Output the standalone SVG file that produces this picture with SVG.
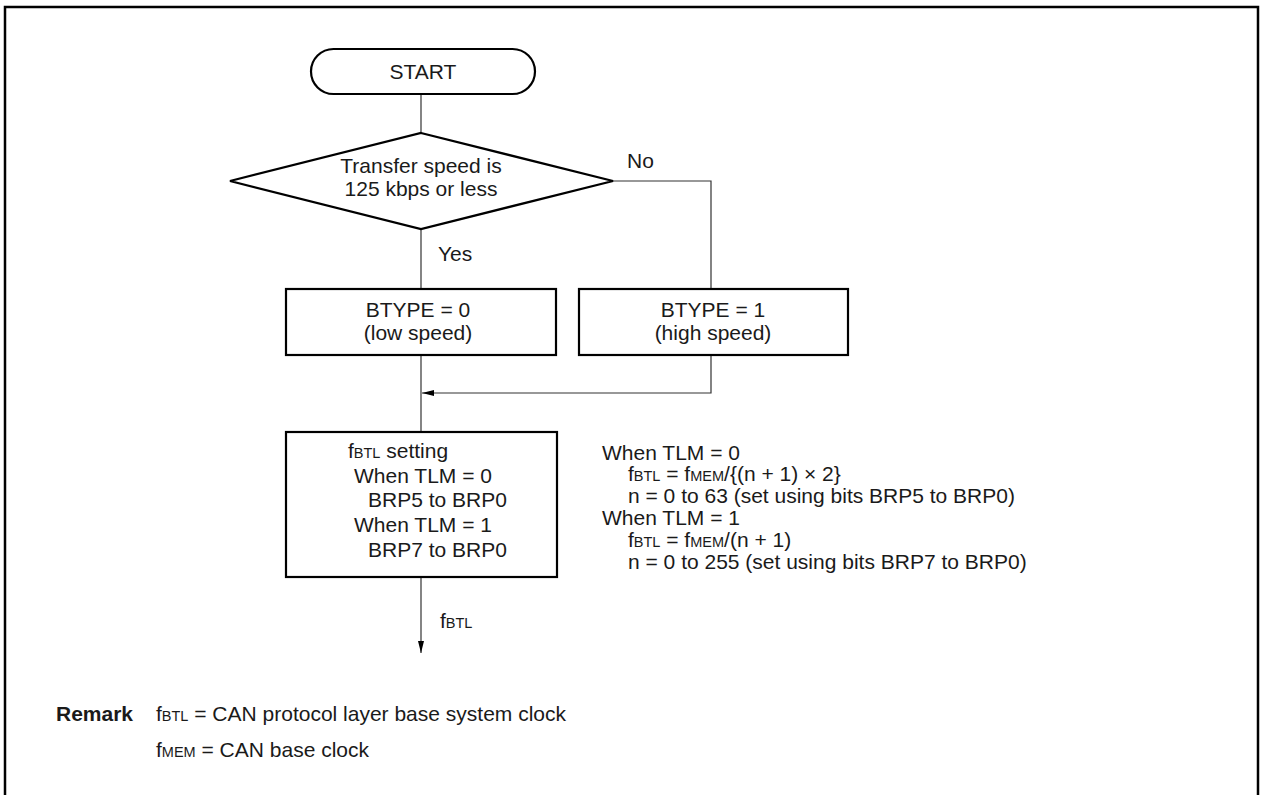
<svg xmlns="http://www.w3.org/2000/svg" width="1261" height="795" viewBox="0 0 1261 795">
<style>
text{font-family:"Liberation Sans",Arial,sans-serif;font-size:21px;fill:#1a1a1a}
.c{text-anchor:middle}
.s{font-size:14.5px}
.b{font-weight:bold}
.shape{fill:#fff;stroke:#000;stroke-width:2.2}
.ln{fill:none;stroke:#333;stroke-width:1.2}
</style>
<defs>
<marker id="ah" viewBox="0 0 12 6" refX="12" refY="3" markerWidth="12" markerHeight="6" markerUnits="userSpaceOnUse" orient="auto">
<path d="M0,0 L12,3 L0,6 Z" fill="#000"/>
</marker>
</defs>
<rect width="1261" height="795" fill="#fff"/>
<path d="M5,800 V7 H1258 V800" fill="none" stroke="#000" stroke-width="2.5"/>
<g id="connectors">
<line class="ln" x1="421" y1="94" x2="421" y2="133"/>
<line class="ln" x1="421" y1="229" x2="421" y2="289"/>
<polyline class="ln" points="613,181 711,181 711,289"/>
<line class="ln" x1="421" y1="355" x2="421" y2="432"/>
<polyline class="ln" points="711,355 711,393 422,393" marker-end="url(#ah)"/>
<line class="ln" x1="421" y1="577" x2="421" y2="653" marker-end="url(#ah)"/>
<text x="627" y="168">No</text>
<text x="438" y="261">Yes</text>
<text x="440" y="628">f<tspan class="s">BTL</tspan></text>
</g>
<g id="start">
<rect class="shape" x="311" y="49" width="224" height="45" rx="22.5"/>
<text class="c" x="423" y="79">START</text>
</g>
<g id="decision">
<polygon class="shape" points="421,133 613,181 421,229 230,181"/>
<text class="c" x="421" y="173">Transfer speed is</text>
<text class="c" x="421" y="196">125 kbps or less</text>
</g>
<g id="btype0">
<rect class="shape" x="286" y="289" width="270" height="66"/>
<text class="c" x="418" y="317">BTYPE = 0</text>
<text class="c" x="418" y="340">(low speed)</text>
</g>
<g id="btype1">
<rect class="shape" x="579" y="289" width="269" height="66"/>
<text class="c" x="713" y="317">BTYPE = 1</text>
<text class="c" x="713" y="340">(high speed)</text>
</g>
<g id="fbtl-setting">
<rect class="shape" x="286" y="432" width="271" height="145"/>
<text x="348" y="458">f<tspan class="s">BTL</tspan> setting</text>
<text x="354" y="483">When TLM = 0</text>
<text x="368" y="507">BRP5 to BRP0</text>
<text x="354" y="532">When TLM = 1</text>
<text x="368" y="557">BRP7 to BRP0</text>
</g>
<g id="formula-note">
<text x="602" y="460">When TLM = 0</text>
<text x="628" y="481">f<tspan class="s">BTL</tspan> = f<tspan class="s">MEM</tspan>/{(n + 1) × 2}</text>
<text x="628" y="503">n = 0 to 63 (set using bits BRP5 to BRP0)</text>
<text x="602" y="525">When TLM = 1</text>
<text x="628" y="547">f<tspan class="s">BTL</tspan> = f<tspan class="s">MEM</tspan>/(n + 1)</text>
<text x="628" y="569">n = 0 to 255 (set using bits BRP7 to BRP0)</text>
</g>
<g id="remark">
<text class="b" x="56" y="721">Remark</text>
<text x="156" y="721">f<tspan class="s">BTL</tspan> = CAN protocol layer base system clock</text>
<text x="156" y="757">f<tspan class="s">MEM</tspan> = CAN base clock</text>
</g>
</svg>
